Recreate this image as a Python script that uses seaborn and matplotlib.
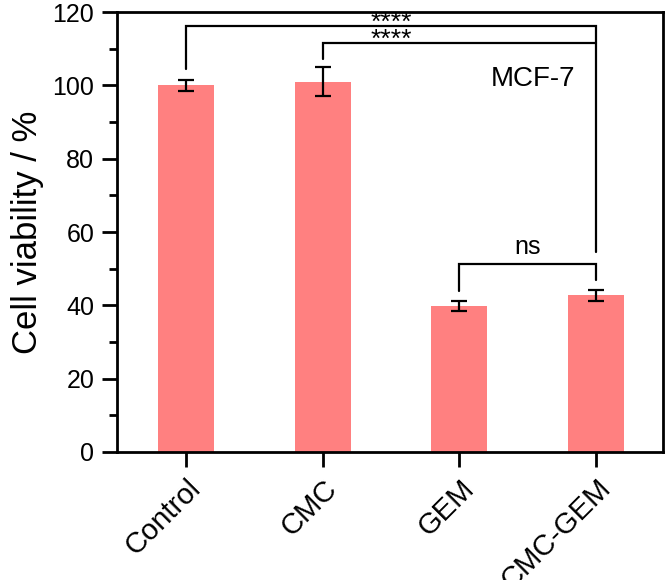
import numpy as np
import matplotlib
matplotlib.use('Agg')
import matplotlib.pyplot as plt
from matplotlib.ticker import MultipleLocator
import seaborn as sns

# datos
grupos = ['Control', 'CMC', 'GEM', 'CMC-GEM']
viabilidad = [100.0, 101.0, 39.9, 42.8]
desv = [1.5, 4.0, 1.4, 1.5]

# corchetes de significancia: (inicio, fin, altura, pie izq, pie der, etiqueta)
brackets = [
    (0, 3, 116.2, 104.5, 54.6, '****'),
    (1, 3, 111.6, 107.2, 111.6, '****'),
    (2, 3, 51.4, 44.0, 46.8, 'ns'),
]
label_x = [1.5, 1.5, 2.5]

sns.set_style('ticks', {'axes.edgecolor': 'black', 'text.color': 'black',
                        'xtick.color': 'black', 'ytick.color': 'black',
                        'axes.labelcolor': 'black'})
plt.rcParams['font.family'] = ['Liberation Sans', 'DejaVu Sans']

fig = plt.figure(figsize=(6.67, 5.8), dpi=100)
ax = fig.add_axes([0.1747, 0.2207, 0.8193, 0.7586])

sns.barplot(x=grupos, y=viabilidad, color='#FF8080', saturation=1,
            width=0.41, errorbar=None, edgecolor='none', ax=ax)
ax.errorbar(np.arange(len(grupos)), viabilidad, yerr=desv, fmt='none',
            ecolor='black', elinewidth=1.6, capsize=6, capthick=1.6)

for (i0, i1, h, pie0, pie1, txt), lx in zip(brackets, label_x):
    ax.plot([i0, i0, i1, i1], [pie0, h, h, pie1], color='black', lw=1.6,
            solid_joinstyle='miter')
    if txt == 'ns':
        ax.annotate(txt, xy=(lx, h), xytext=(0, 3), textcoords='offset points',
                    ha='center', va='bottom', fontsize=18, color='black')
    else:
        ax.annotate(txt, xy=(lx, h), xytext=(0, -3), textcoords='offset points',
                    ha='center', va='baseline', fontsize=19, color='black')

ax.text(2.54, 101.8, 'MCF-7', ha='center', va='center', fontsize=20, color='black')

ax.set_xlim(-0.51, 3.49)
ax.set_ylim(0, 120)
ax.yaxis.set_major_locator(MultipleLocator(20))
ax.yaxis.set_minor_locator(MultipleLocator(10))
ax.set_ylabel('Cell viability / %', fontsize=25, labelpad=6, color='black')
ax.set_xlabel('')

for s in ax.spines.values():
    s.set_linewidth(2)
    s.set_color('black')
    s.set_visible(True)
ax.tick_params(axis='both', which='major', length=11, width=2,
               direction='out', pad=5, colors='black')
ax.tick_params(axis='y', labelsize=18)
ax.tick_params(axis='x', labelsize=21)
ax.tick_params(axis='y', which='minor', length=6, width=2, direction='out', colors='black')
plt.setp(ax.get_xticklabels(), rotation=45, ha='right', rotation_mode='anchor')

fig.savefig('out.png', dpi=100)
